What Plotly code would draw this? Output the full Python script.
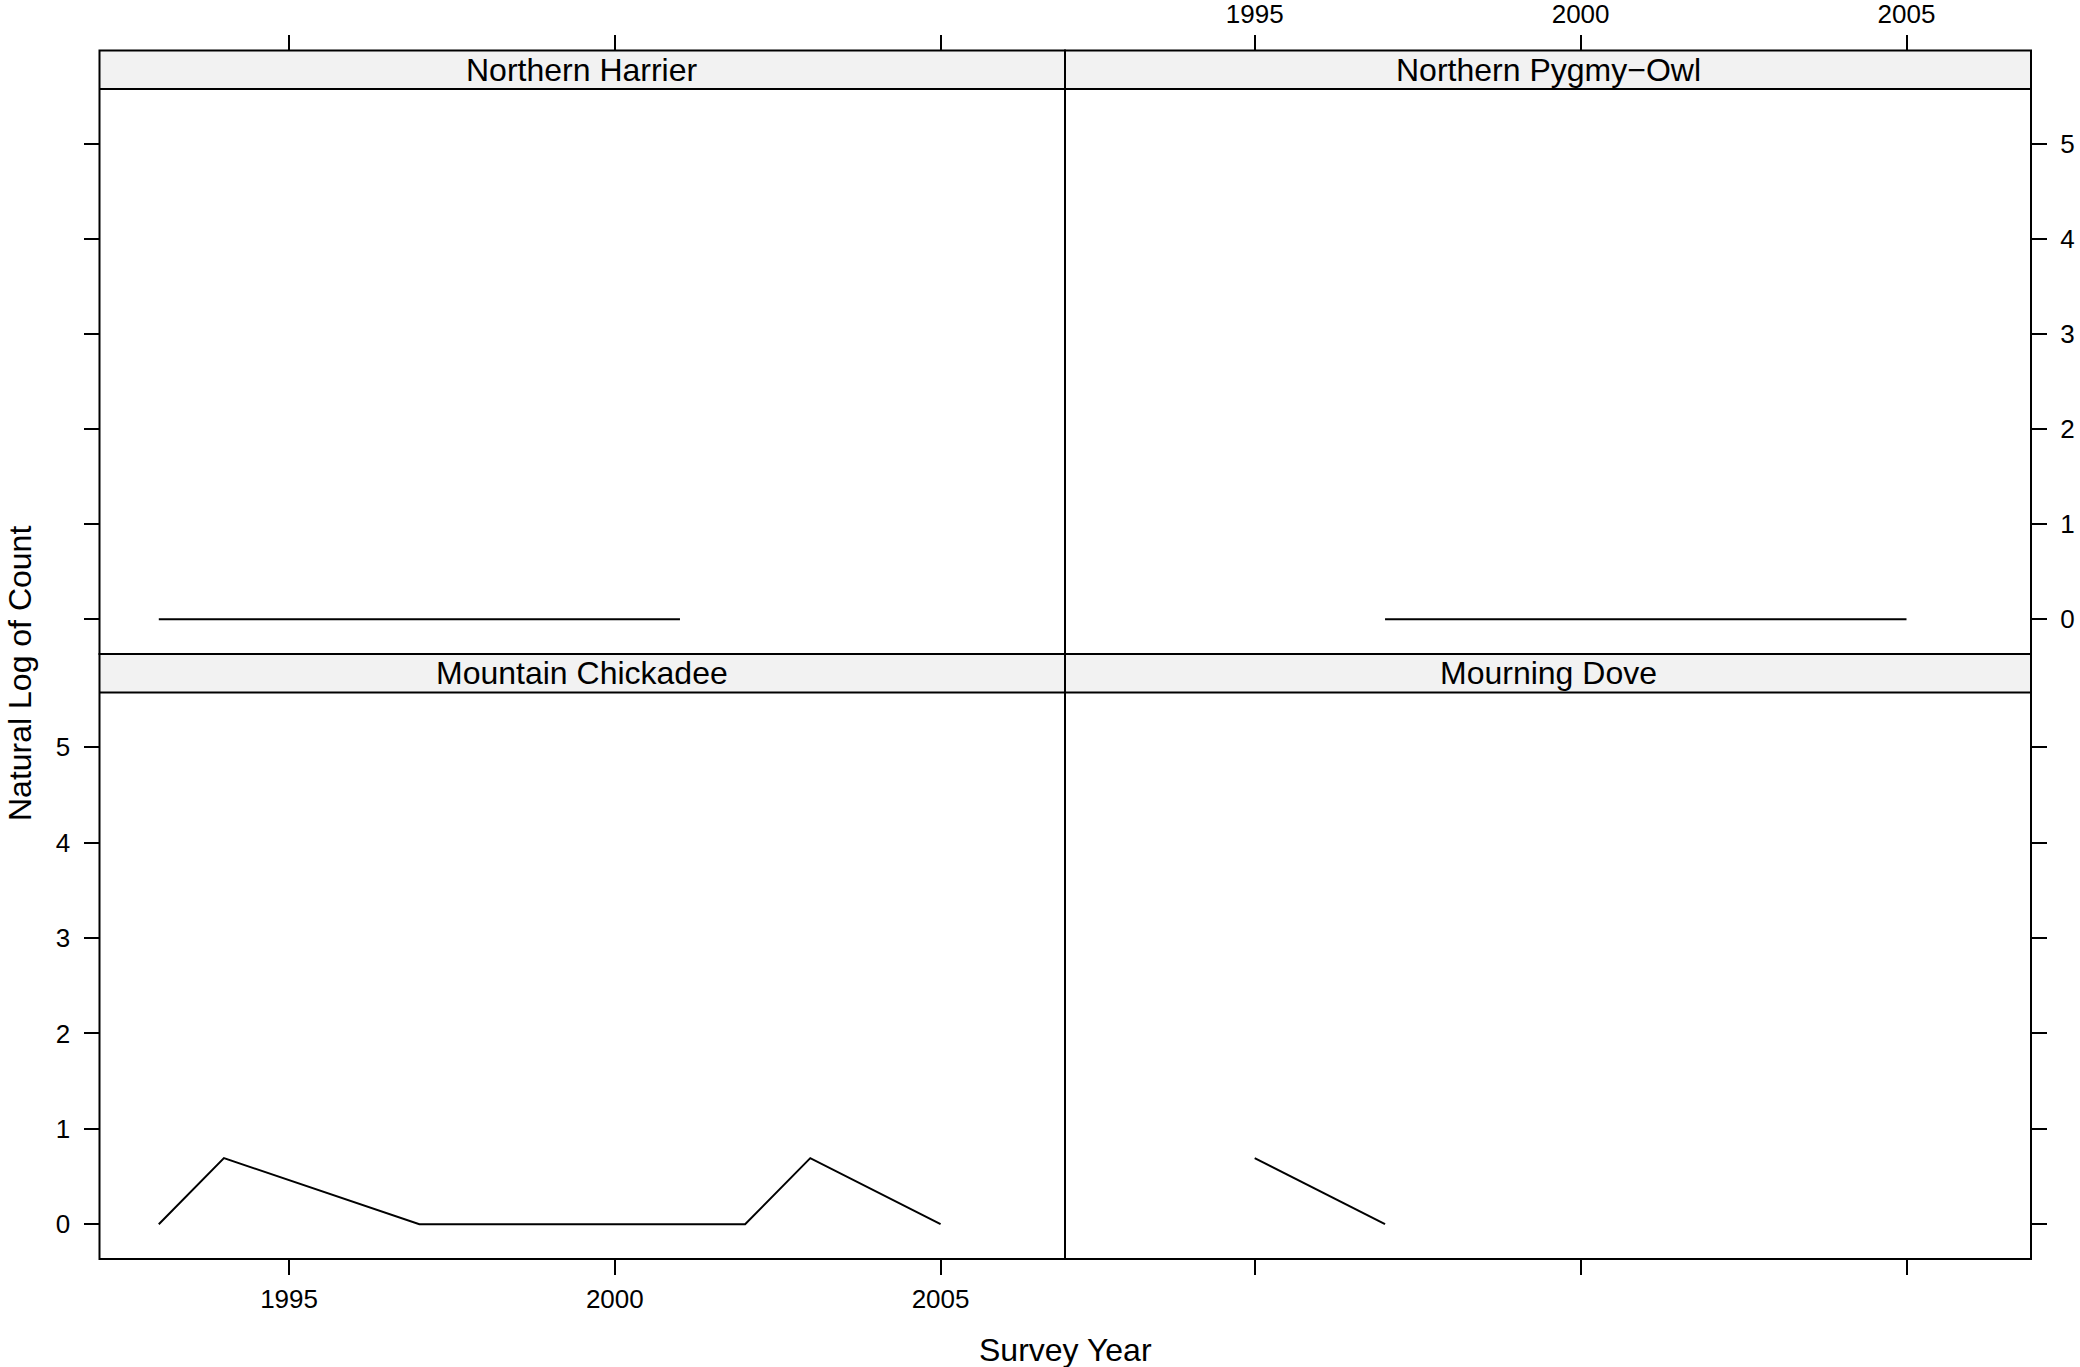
import plotly.graph_objects as go

# ---- data ----
panel_names = ["Mountain Chickadee", "Mourning Dove", "Northern Harrier", "Northern Pygmy\u2212Owl"]
chickadee_years = [1993, 1994, 1997, 2002, 2003, 2005]
chickadee_logcount = [0.0, 0.693, 0.0, 0.0, 0.693, 0.0]
dove_years = [1995, 1997]
dove_logcount = [0.693, 0.0]
harrier_years = [1993, 2001]
harrier_logcount = [0.0, 0.0]
pygmyowl_years = [1997, 2005]
pygmyowl_logcount = [0.0, 0.0]
x_tickvals = [1995, 2000, 2005]
y_tickvals = [0, 1, 2, 3, 4, 5]
x_data_limits = [1993, 2006]
y_data_limits = [0.0, 5.21]

# ---- layout geometry (pixels) ----
W, H = 2080, 1367
L, M, R = 99.5, 1065.0, 2031.0
TOP_STRIP_T, TOP_STRIP_B = 50.4, 88.9
TOP_PANEL_B = 654.0
BOT_STRIP_B = 692.5
BOT_PANEL_B = 1259.0

def fx(p):
    return p / W

def fy(p):
    return 1 - p / H

pad = 0.07
xr = [x_data_limits[0] - pad * (x_data_limits[1] - x_data_limits[0]),
      x_data_limits[1] + pad * (x_data_limits[1] - x_data_limits[0])]
yr = [y_data_limits[0] - pad * (y_data_limits[1] - y_data_limits[0]),
      y_data_limits[1] + pad * (y_data_limits[1] - y_data_limits[0])]

FONT = "Liberation Sans, Arial, Helvetica, sans-serif"
TICK_FONT = dict(family=FONT, size=26, color="black")

series = [
    (chickadee_years, chickadee_logcount, "x", "y"),
    (dove_years, dove_logcount, "x2", "y2"),
    (harrier_years, harrier_logcount, "x3", "y3"),
    (pygmyowl_years, pygmyowl_logcount, "x4", "y4"),
]

fig = go.Figure()
for xs, ys, xa, ya in series:
    fig.add_trace(go.Scatter(x=xs, y=ys, mode="lines", xaxis=xa, yaxis=ya,
                             line=dict(color="black", width=2), showlegend=False,
                             hoverinfo="skip"))

common_x = dict(range=xr, tickvals=x_tickvals, ticks="outside", ticklen=15, tickwidth=2,
                tickcolor="black", showgrid=False, zeroline=False, showline=False,
                tickfont=TICK_FONT, fixedrange=True, automargin=False)
common_y = dict(range=yr, tickvals=y_tickvals, ticks="outside", ticklen=15, tickwidth=2,
                tickcolor="black", showgrid=False, zeroline=False, showline=False,
                tickfont=TICK_FONT, fixedrange=True, automargin=False)

bot_dom = [fy(BOT_PANEL_B), fy(BOT_STRIP_B)]
top_dom = [fy(TOP_PANEL_B), fy(TOP_STRIP_B)]

fig.update_layout(
    width=W, height=H,
    margin=dict(l=0, r=0, t=0, b=0, pad=0, autoexpand=False),
    paper_bgcolor="white", plot_bgcolor="white",
    font=dict(family=FONT, color="black"),
    xaxis=dict(common_x, domain=[fx(L), fx(M)], anchor="y", side="bottom", showticklabels=True, ticklabelstandoff=2),
    yaxis=dict(common_y, domain=bot_dom, anchor="x", side="left", showticklabels=True, ticklabelstandoff=8),
    xaxis2=dict(common_x, domain=[fx(M), fx(R)], anchor="y2", side="bottom", showticklabels=False),
    yaxis2=dict(common_y, domain=bot_dom, anchor="x2", side="right", showticklabels=False),
    xaxis3=dict(common_x, domain=[fx(L), fx(M)], anchor="free", position=fy(TOP_STRIP_T), side="top", showticklabels=False),
    yaxis3=dict(common_y, domain=top_dom, anchor="x3", side="left", showticklabels=False),
    xaxis4=dict(common_x, domain=[fx(M), fx(R)], anchor="free", position=fy(TOP_STRIP_T), side="top", showticklabels=True, ticklabelstandoff=2),
    yaxis4=dict(common_y, domain=top_dom, anchor="x4", side="right", showticklabels=True, ticklabelstandoff=8),
)

# strips and panel borders
shapes = []
strip_rows = [(BOT_PANEL_B, BOT_STRIP_B, TOP_PANEL_B), (TOP_PANEL_B, TOP_STRIP_B, TOP_STRIP_T)]
cols = [(L, M), (M, R)]
for (pb, sb, st) in strip_rows:
    for (x0, x1) in cols:
        shapes.append(dict(type="rect", xref="paper", yref="paper", x0=fx(x0), x1=fx(x1),
                           y0=fy(sb), y1=fy(st), fillcolor="#F2F2F2", line=dict(width=0), layer="below"))
for (pb, sb, st) in strip_rows:
    for (x0, x1) in cols:
        shapes.append(dict(type="line", xref="paper", yref="paper", x0=fx(x0), x1=fx(x1),
                           y0=fy(sb), y1=fy(sb), line=dict(color="black", width=2)))
        shapes.append(dict(type="rect", xref="paper", yref="paper", x0=fx(x0), x1=fx(x1),
                           y0=fy(pb), y1=fy(st), line=dict(color="black", width=2), fillcolor="rgba(0,0,0,0)"))
fig.update_layout(shapes=shapes)

# strip labels
strip_pos = [
    (panel_names[0], (L + M) / 2, (BOT_STRIP_B + TOP_PANEL_B) / 2),
    (panel_names[1], (M + R) / 2, (BOT_STRIP_B + TOP_PANEL_B) / 2),
    (panel_names[2], (L + M) / 2, (TOP_STRIP_B + TOP_STRIP_T) / 2),
    (panel_names[3], (M + R) / 2, (TOP_STRIP_B + TOP_STRIP_T) / 2),
]
annotations = []
for name, cx, cy in strip_pos:
    annotations.append(dict(text=name, xref="paper", yref="paper", x=fx(cx), y=fy(cy),
                            xanchor="center", yanchor="middle", showarrow=False,
                            font=dict(family=FONT, size=32, color="black")))
annotations.append(dict(text="Survey Year", xref="paper", yref="paper", x=fx(M), y=fy(1350),
                        xanchor="center", yanchor="middle", showarrow=False,
                        font=dict(family=FONT, size=32, color="black")))
annotations.append(dict(text="Natural Log of Count", xref="paper", yref="paper", x=0, y=fy(674),
                        xanchor="left", yanchor="middle", showarrow=False, textangle=-90,
                        font=dict(family=FONT, size=32, color="black")))
fig.update_layout(annotations=annotations)

fig.write_html("out.html", config={"displayModeBar": False},
               post_script="document.body.style.margin='0';")
